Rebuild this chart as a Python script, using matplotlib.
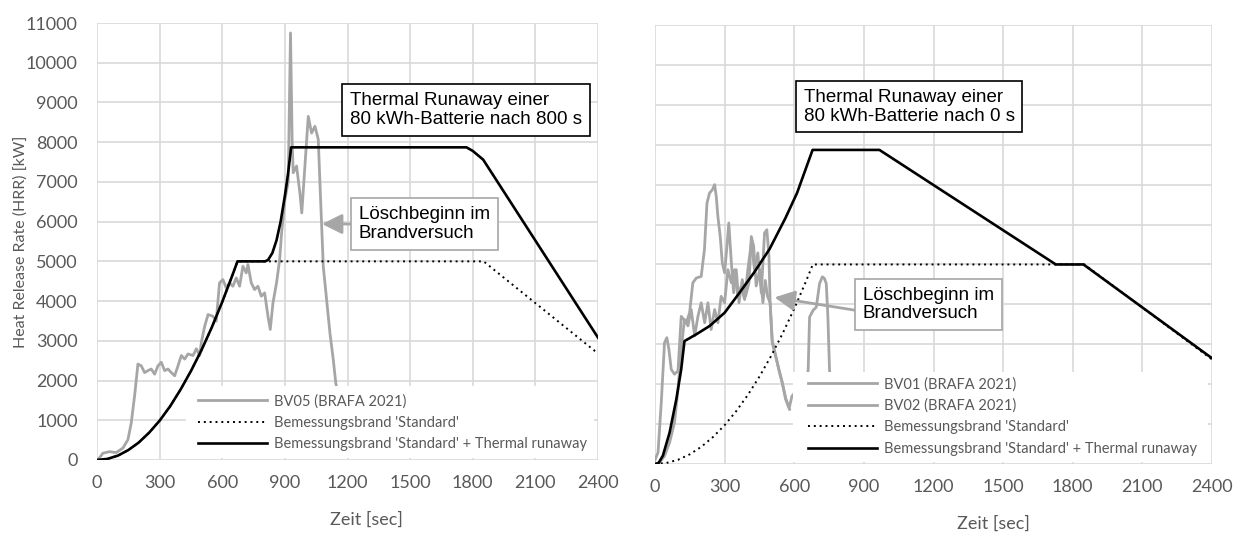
import matplotlib
matplotlib.use('Agg')
import matplotlib.pyplot as plt
from matplotlib.patches import Rectangle

# ---- left panel: TR after 800 s ----
t_bv05 = [0, 4, 28, 60, 92, 124, 148, 164, 180, 196, 212, 228, 244, 260, 276, 292, 308, 324, 340,
          356, 372, 388, 404, 420, 436, 460, 476, 492, 500, 516, 532, 555, 571, 587, 603, 619, 635,
          651, 667, 683, 699, 715, 723, 739, 755, 771, 787, 803, 819, 830, 843, 860, 875, 884, 900,
          916, 927, 935, 940, 956, 972, 981, 996, 1012, 1028, 1044, 1060, 1068, 1084, 1100, 1116,
          1132, 1144, 1151, 1170, 1200]
q_bv05 = [0, 0, 170, 210, 186, 300, 510, 930, 1610, 2415, 2370, 2200, 2250, 2290, 2160, 2370, 2460,
          2250, 2290, 2200, 2120, 2370, 2630, 2540, 2670, 2630, 2800, 2630, 2970, 3369, 3662, 3620,
          3494, 4458, 4542, 4333, 4458, 4374, 4584, 4374, 4877, 4710, 4919, 4458, 4290, 4374, 4123,
          4207, 3620, 3285, 3955, 4458, 5045, 5700, 6550, 7000, 10750, 7980, 7230, 7400, 6720, 6220,
          7400, 8650, 8230, 8400, 8070, 6970, 4870, 4030, 3190, 2520, 1930, 1770, 1200, 600]

t_std_l = [0, 50, 100, 150, 200, 250, 300, 350, 400, 450, 500, 550, 600, 650, 673, 1852, 2400]
q_std_l = [0, 28, 110, 250, 440, 690, 990, 1350, 1770, 2240, 2760, 3340, 3980, 4670, 5000, 5000, 2680]

t_tr_l = [0, 50, 100, 150, 200, 250, 300, 350, 400, 450, 500, 550, 600, 650, 673, 806, 820, 840,
          860, 880, 900, 915, 930, 1770, 1800, 1850, 2400]
q_tr_l = [0, 28, 110, 250, 440, 690, 990, 1350, 1770, 2240, 2760, 3340, 3980, 4670, 5000, 5000,
          5040, 5210, 5530, 6010, 6650, 7200, 7870, 7870, 7780, 7560, 3080]

# ---- right panel: TR after 0 s ----
t_bv01 = [0, 13, 27, 41, 51, 60, 70, 84, 99, 113, 135, 149, 163, 178, 199, 213, 224, 235, 247, 257,
          264, 271, 281, 290, 300, 310, 318, 329, 339, 350, 362, 376, 390, 405, 415, 425, 436, 451,
          465, 475, 485, 496, 505, 520, 534, 548, 563, 580]
q_bv01 = [100, 290, 1540, 3040, 3165, 2870, 2370, 2250, 2330, 3700, 3540, 3790, 4540, 4660, 4700,
          5370, 6540, 6790, 6870, 7000, 6700, 6200, 5700, 5040, 4790, 5460, 6040, 5040, 4290, 4870,
          4040, 4620, 4200, 4540, 5700, 5460, 4460, 4870, 4040, 4600, 4200, 4040, 3040, 2710, 2370,
          2040, 1620, 1370]

t_bv02 = [0, 20, 41, 63, 84, 99, 113, 127, 142, 156, 171, 185, 199, 214, 228, 242, 257, 271, 285,
          300, 314, 329, 343, 357, 372, 386, 400, 415, 429, 443, 458, 472, 482, 491, 496, 505, 520,
          534, 548, 563, 578, 590, 620, 650, 660, 666, 681, 695, 709, 721, 730, 738, 745, 752, 770]
q_bv02 = [0, 40, 200, 540, 1040, 1870, 2870, 3620, 3460, 3870, 3210, 3700, 4040, 3540, 4040, 3370,
          3870, 3540, 4200, 4040, 4870, 4540, 4870, 4200, 4460, 4120, 4870, 5540, 4870, 5290, 4290,
          5790, 5870, 5210, 4040, 3100, 2700, 2350, 2050, 1650, 1400, 1700, 1900, 2100, 2350, 3680,
          3850, 3930, 4520, 4690, 4650, 4520, 3680, 2350, 1000]

t_std_r = [0, 50, 100, 150, 200, 250, 300, 350, 400, 450, 500, 550, 600, 650, 680, 1850, 2400]
q_std_r = [0, 27, 108, 243, 433, 676, 973, 1325, 1730, 2190, 2703, 3271, 3893, 4569, 5000, 5000, 2620]

t_tr_r = [0, 15, 34, 63, 92, 113, 127, 178, 235, 300, 364, 426, 494, 561, 612, 679, 967,
          1727, 1846, 2400]
q_tr_r = [0, 20, 210, 790, 1625, 2375, 3080, 3250, 3457, 3790, 4290, 4790, 5390, 6150, 6790,
          7870, 7870, 5000, 5000, 2650]

x_ticks = [0, 300, 600, 900, 1200, 1500, 1800, 2100, 2400]
y_ticks = list(range(0, 11001, 1000))

GRAY = '#a6a6a6'
GRID = '#d9d9d9'
TXT = '#595959'

plt.rcParams['font.family'] = ['Lato', 'DejaVu Sans']

fig = plt.figure(figsize=(12.34, 5.33), dpi=100)
ax1 = fig.add_axes([97 / 1234, 73 / 533, 501 / 1234, 437 / 533])
ax2 = fig.add_axes([655 / 1234, 69 / 533, 557 / 1234, 439 / 533])


def style(ax, ylabels):
    ax.set_xlim(0, 2400)
    ax.set_ylim(0, 11000)
    ax.set_xticks(x_ticks)
    ax.set_yticks(y_ticks)
    ax.grid(True, color=GRID, lw=1.2, zorder=0)
    ax.set_axisbelow(True)
    for s in ax.spines.values():
        s.set_visible(False)
    ax.tick_params(length=0, labelsize=13, labelcolor=TXT, pad=11)
    ax.tick_params(axis='y', pad=14)
    if not ylabels:
        ax.set_yticklabels([])


def box_text(ax, x, y, s):
    ax.text(x, y, s, fontsize=13.5, family='Liberation Sans', ha='left', va='center',
            linespacing=1.1, zorder=6,
            bbox=dict(boxstyle='square,pad=0.42', fc='white', ec='black', lw=1.2))


def loesch(ax, tip, txt_xy, relpos):
    ax.annotate('Löschbeginn im\nBrandversuch', xy=tip, xytext=txt_xy,
                fontsize=13.5, family='Liberation Sans', ha='left', va='center',
                linespacing=1.1, zorder=6,
                bbox=dict(boxstyle='square,pad=0.42', fc='white', ec=GRAY, lw=1.2),
                arrowprops=dict(arrowstyle='-|>,head_length=0.9,head_width=0.45', color=GRAY,
                                lw=2, relpos=relpos, shrinkA=0, shrinkB=0))


def legend_area(ax, x0, y1, anchor):
    # white legend background that hides the grid and the curves beneath it
    ax.add_patch(Rectangle((x0, 0.004), 0.992 - x0, y1 - 0.004, transform=ax.transAxes,
                           fc='white', ec='none', zorder=4.5))
    leg = ax.legend(loc='upper left', bbox_to_anchor=anchor, fontsize=10.5, frameon=False,
                    handlelength=4.7, handletextpad=0.5, labelspacing=0.5, borderpad=0.3,
                    borderaxespad=0)
    leg.set_zorder(5)
    for t in leg.get_texts():
        t.set_color(TXT)


# left
style(ax1, True)
ax1.plot(t_bv05, q_bv05, color=GRAY, lw=2, zorder=2, label='BV05 (BRAFA 2021)')
ax1.plot(t_std_l, q_std_l, color='black', lw=1.4, ls=(0, (1, 2)), zorder=3,
         label="Bemessungsbrand 'Standard'")
ax1.plot(t_tr_l, q_tr_l, color='black', lw=1.9, zorder=4,
         label="Bemessungsbrand 'Standard' + Thermal runaway")
ax1.set_ylabel('Heat Release Rate (HRR) [kW]', fontsize=11.5, color=TXT)
ax1.yaxis.set_label_coords(-0.138, 0.5)
ax1.set_xlabel('Zeit [sec]', fontsize=13, color=TXT)
ax1.xaxis.set_label_coords(0.537, -0.118)
box_text(ax1, 1212, 8810, 'Thermal Runaway einer\n80 kWh-Batterie nach 800 s')
loesch(ax1, (1078, 5940), (1255, 5940), (0, 0.5))
legend_area(ax1, 0.178, 0.17, (0.193, 0.161))

# right
style(ax2, False)
ax2.plot(t_bv01, q_bv01, color=GRAY, lw=2, zorder=2, label='BV01 (BRAFA 2021)')
ax2.plot(t_bv02, q_bv02, color=GRAY, lw=2, zorder=2, label='BV02 (BRAFA 2021)')
ax2.plot(t_std_r, q_std_r, color='black', lw=1.4, ls=(0, (1, 2)), zorder=3,
         label="Bemessungsbrand 'Standard'")
ax2.plot(t_tr_r, q_tr_r, color='black', lw=1.9, zorder=4,
         label="Bemessungsbrand 'Standard' + Thermal runaway")
ax2.set_xlabel('Zeit [sec]', fontsize=13, color=TXT)
ax2.xaxis.set_label_coords(0.607, -0.118)
box_text(ax2, 640, 8946, 'Thermal Runaway einer\n80 kWh-Batterie nach 0 s')
loesch(ax2, (515, 4175), (895, 4000), (0, 0.3))
legend_area(ax2, 0.248, 0.21, (0.267, 0.208))

fig.savefig('out.png', dpi=100)
